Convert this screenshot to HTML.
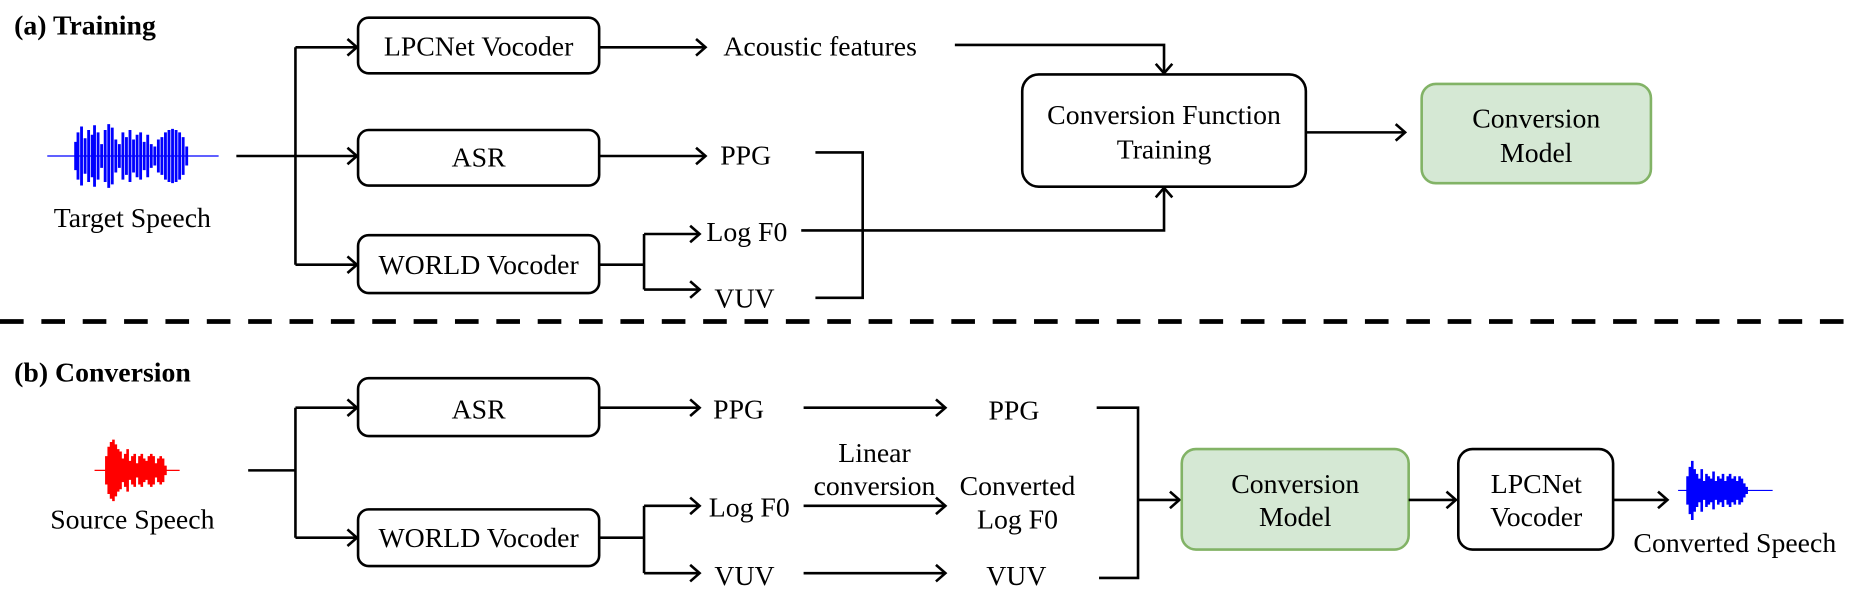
<!DOCTYPE html>
<html><head><meta charset="utf-8"><style>
html,body{margin:0;padding:0;background:#fff;width:1853px;height:598px;overflow:hidden}
svg{display:block}
text{font-family:"Liberation Serif",serif;font-size:23.5px;fill:#000}
</style></head><body>
<svg width="1853" height="598" viewBox="0 0 1568 506" preserveAspectRatio="none" xmlns="http://www.w3.org/2000/svg">
<defs>
<marker id="a" markerUnits="userSpaceOnUse" markerWidth="14" markerHeight="16" refX="11" refY="8" orient="auto">
<path d="M3,1 L11,8 L3,15" fill="none" stroke="#000" stroke-width="2.2"/>
</marker>
</defs>
<g fill="none" stroke="#000" stroke-width="2.2">
<path d="M200,132 H250"/>
<path d="M250,40 V224"/>
<path d="M250,40 H302" marker-end="url(#a)"/>
<path d="M250,132 H302" marker-end="url(#a)"/>
<path d="M250,224 H302" marker-end="url(#a)"/>
<rect x="303" y="15" width="204" height="47" rx="9"/>
<rect x="303" y="110" width="204" height="47" rx="9"/>
<rect x="303" y="199" width="204" height="49" rx="9"/>
<path d="M507,40 H597" marker-end="url(#a)"/>
<path d="M507,132 H597" marker-end="url(#a)"/>
<path d="M507,224 H545 M545,198 V245"/>
<path d="M545,198 H592" marker-end="url(#a)"/>
<path d="M545,245 H592" marker-end="url(#a)"/>
<path d="M690,129 H730 V252 H690"/>
<path d="M678,195 H985 V159" marker-end="url(#a)"/>
<path d="M808,38 H985 V62" marker-end="url(#a)"/>
<rect x="865" y="63" width="240" height="95" rx="14"/>
<path d="M1105,112 H1189" marker-end="url(#a)"/>
<rect x="1203" y="71" width="194" height="84" rx="12" fill="#d5e8d4" stroke="#82b366"/>
<path d="M0,272 H1568" stroke-width="4" stroke-dasharray="20,15"/>
<path d="M210,398 H250"/>
<path d="M250,345 V455"/>
<path d="M250,345 H302" marker-end="url(#a)"/>
<path d="M250,455 H302" marker-end="url(#a)"/>
<rect x="303" y="320" width="204" height="49" rx="9"/>
<rect x="303" y="431" width="204" height="48" rx="9"/>
<path d="M507,345 H592" marker-end="url(#a)"/>
<path d="M680,345 H800" marker-end="url(#a)"/>
<path d="M507,455 H545 M545,428 V485"/>
<path d="M545,428 H592" marker-end="url(#a)"/>
<path d="M545,485 H592" marker-end="url(#a)"/>
<path d="M680,428 H800" marker-end="url(#a)"/>
<path d="M680,485 H800" marker-end="url(#a)"/>
<path d="M928,345 H963 V489 H930"/>
<path d="M963,423 H998" marker-end="url(#a)"/>
<rect x="1000" y="380" width="192" height="85" rx="12" fill="#d5e8d4" stroke="#82b366"/>
<path d="M1192,423 H1232" marker-end="url(#a)"/>
<rect x="1234" y="380" width="131" height="85" rx="12"/>
<path d="M1365,423 H1411" marker-end="url(#a)"/>
</g>
<g stroke="#0000ff" stroke-width="2.4">
<path stroke-width="1" d="M40,132 H185"/>
<path d="M64,120V144M66,112V152M69,107V157M72,117V147M75,110V154M78,114V150M80,106V158M83,112V152M86,122V142M89,110V154M92,105V159M95,108V156M98,118V146M101,122V142M104,112V152M107,116V148M110,110V154M113,118V146M116,114V150M119,112V152M122,120V144M125,114V150M128,122V142M131,124V140M134,118V146M137,116V148M140,112V152M143,110V154M146,109V155M149,110V154M152,112V152M155,116V148M158,124V140"/>
</g>
<g stroke="#ff0000" stroke-width="2.2">
<path stroke-width="1" d="M80,398 H152"/>
<path d="M90,386V410M92,378V418M94,374V422M96,372V424M98,376V420M100,380V416M102,382V414M104,388V408M106,384V412M108,380V416M110,390V406M112,386V410M114,384V412M116,392V404M118,386V410M120,384V412M122,388V408M124,390V406M126,386V410M128,384V412M130,386V410M132,392V404M134,388V408M136,386V410M138,388V408M140,394V402"/>
</g>
<g stroke="#0000ff" stroke-width="2.2">
<path stroke-width="1" d="M1420,415 H1500"/>
<path d="M1428,403V427M1430,395V435M1432,390V440M1434,397V433M1436,401V429M1438,405V425M1440,397V433M1442,407V423M1444,401V429M1446,403V427M1448,405V425M1450,399V431M1452,407V423M1454,403V427M1456,405V425M1458,401V429M1460,407V423M1462,403V427M1464,401V429M1466,405V425M1468,403V427M1470,407V423M1472,403V427M1474,405V425M1476,409V421M1478,412V418"/>
</g>
<text x="12" y="29" font-weight="bold">(a) Training</text>
<text x="112" y="192" text-anchor="middle">Target Speech</text>
<text x="405" y="47" text-anchor="middle">LPCNet Vocoder</text>
<text x="405" y="141" text-anchor="middle">ASR</text>
<text x="405" y="232" text-anchor="middle">WORLD Vocoder</text>
<text x="694" y="47" text-anchor="middle">Acoustic features</text>
<text x="631" y="139" text-anchor="middle">PPG</text>
<text x="632" y="204" text-anchor="middle">Log F0</text>
<text x="630" y="260" text-anchor="middle">VUV</text>
<text x="985" y="105" text-anchor="middle">Conversion Function</text>
<text x="985" y="134" text-anchor="middle">Training</text>
<text x="1300" y="108" text-anchor="middle">Conversion</text>
<text x="1300" y="137" text-anchor="middle">Model</text>
<text x="12" y="323" font-weight="bold">(b) Conversion</text>
<text x="112" y="447" text-anchor="middle">Source Speech</text>
<text x="405" y="354" text-anchor="middle">ASR</text>
<text x="405" y="463" text-anchor="middle">WORLD Vocoder</text>
<text x="625" y="354" text-anchor="middle">PPG</text>
<text x="858" y="355" text-anchor="middle">PPG</text>
<text x="634" y="437" text-anchor="middle">Log F0</text>
<text x="630" y="495" text-anchor="middle">VUV</text>
<text x="860" y="495" text-anchor="middle">VUV</text>
<text x="740" y="391" text-anchor="middle">Linear</text>
<text x="740" y="419" text-anchor="middle">conversion</text>
<text x="861" y="419" text-anchor="middle">Converted</text>
<text x="861" y="447" text-anchor="middle">Log F0</text>
<text x="1096" y="417" text-anchor="middle">Conversion</text>
<text x="1096" y="445" text-anchor="middle">Model</text>
<text x="1300" y="417" text-anchor="middle">LPCNet</text>
<text x="1300" y="445" text-anchor="middle">Vocoder</text>
<text x="1468" y="467" text-anchor="middle">Converted Speech</text>
</svg>
</body></html>
